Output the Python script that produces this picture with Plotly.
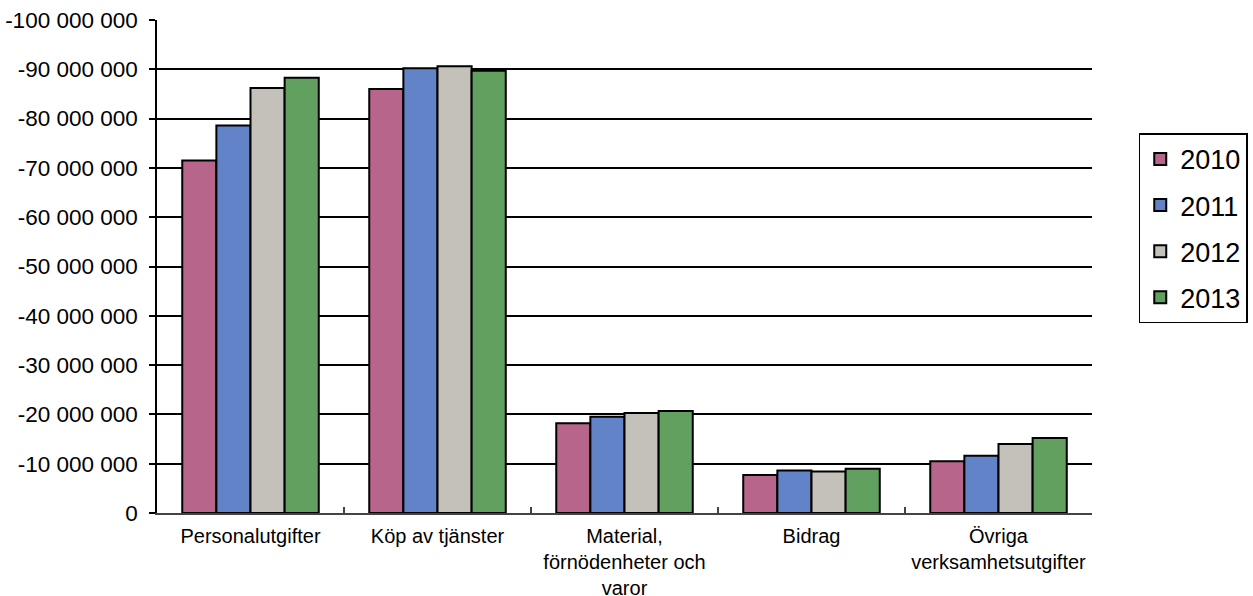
import plotly.graph_objects as go

categories = ["Personalutgifter", "Köp av tjänster", "Material,<br>förnödenheter och<br>varor",
              "Bidrag", "Övriga<br>verksamhetsutgifter"]
years = ["2010", "2011", "2012", "2013"]
v2010 = [-71.5e6, -86.0e6, -18.2e6, -7.7e6, -10.5e6]
v2011 = [-78.6e6, -90.2e6, -19.5e6, -8.6e6, -11.6e6]
v2012 = [-86.2e6, -90.6e6, -20.3e6, -8.4e6, -14.0e6]
v2013 = [-88.3e6, -89.7e6, -20.7e6, -9.0e6, -15.2e6]
colors = ["#B8658C", "#6383C8", "#C4C1BA", "#62A060"]
tick_vals = [0, -1e7, -2e7, -3e7, -4e7, -5e7, -6e7, -7e7, -8e7, -9e7, -1e8]
tick_text = ["0", "-10 000 000", "-20 000 000", "-30 000 000", "-40 000 000", "-50 000 000",
             "-60 000 000", "-70 000 000", "-80 000 000", "-90 000 000", "-100 000 000"]

FONT = "Liberation Sans, Arial, sans-serif"
fig = go.Figure()
for i, (yr, vals) in enumerate(zip(years, [v2010, v2011, v2012, v2013])):
    fig.add_trace(go.Bar(x=categories, y=vals, name=yr, legendgroup=yr,
                         marker=dict(color=colors[i], line=dict(color="black", width=2))))

fig.update_layout(
    width=1253, height=596,
    margin=dict(l=157, r=161, t=20, b=83, autoexpand=False),
    paper_bgcolor="white", plot_bgcolor="white",
    font=dict(family=FONT, size=20, color="black"),
    barmode="group", bargap=0.27, bargroupgap=0,
    legend=dict(x=1.05, xanchor="left", y=0.77, yanchor="top",
                font=dict(size=27, family=FONT), bordercolor="black", borderwidth=1.5,
                traceorder="grouped", tracegroupgap=8, itemwidth=30),
    showlegend=True,
)
fig.update_yaxes(range=[0, -1e8], tickvals=tick_vals, ticktext=tick_text,
                 tickfont=dict(size=22.5),
                 showgrid=True, gridcolor="black", gridwidth=2,
                 showline=True, linecolor="black", linewidth=1.5,
                 ticks="outside", ticklen=6, tickcolor="black", tickwidth=1.5,
                 ticklabelstandoff=7, zeroline=False, automargin=False)
fig.update_xaxes(tickfont=dict(size=20), tickangle=0, showline=True, linecolor="#444444",
                 linewidth=1.5, ticks="inside", tickson="boundaries", ticklen=6,
                 tickcolor="#444444", tickwidth=1.5, showgrid=False, ticklabelstandoff=4,
                 automargin=False)
fig.write_html("out.html", config={"displayModeBar": False},
               post_script="document.body.style.margin='0';document.body.style.padding='0';")
